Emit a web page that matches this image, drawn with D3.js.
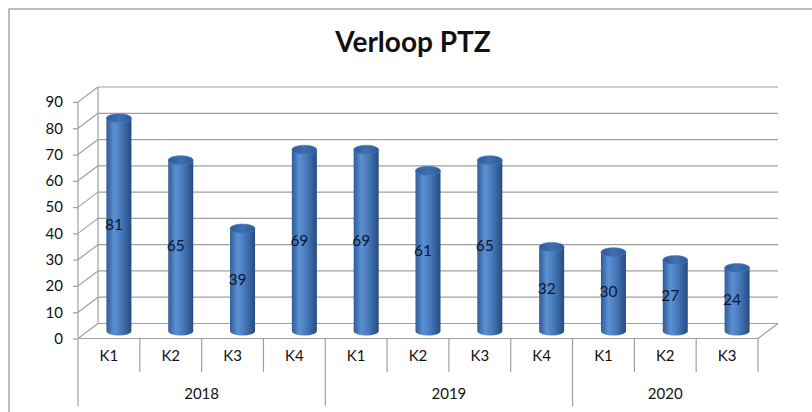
<!DOCTYPE html>
<html>
<head>
<meta charset="utf-8">
<script src="https://cdn.jsdelivr.net/npm/d3@7"></script>
<style>
  html, body { margin: 0; padding: 0; background: #fff; }
  svg { display: block; font-family: Lato, "Open Sans", sans-serif; }
</style>
</head>
<body>
<div id="chart"></div>
<script>
// Daten aus dem Bild
const kwartalen = ["K1", "K2", "K3", "K4", "K1", "K2", "K3", "K4", "K1", "K2", "K3"];
const waarden = [81, 65, 39, 69, 69, 61, 65, 32, 30, 27, 24];
const jaren = ["2018", "2019", "2020"];
const jaarAantal = [4, 4, 3];
const yTicks = [0, 10, 20, 30, 40, 50, 60, 70, 80, 90];

const W = 812, H = 412;
const depthX = 20, depthY = -15;   // 3D-Tiefe der Rückwand

const svg = d3.select("#chart").append("svg")
    .attr("width", W).attr("height", H);

// Verlauf für die Zylinder
const defs = svg.append("defs");
const grad = defs.append("linearGradient").attr("id", "cyl")
    .attr("x1", "0%").attr("x2", "100%").attr("y1", "0%").attr("y2", "0%");
[["0%", "#2f5c96"], ["30%", "#5b90d2"], ["55%", "#4a7dbf"], ["100%", "#254b80"]]
    .forEach(([o, c]) => grad.append("stop").attr("offset", o).attr("stop-color", c));
const gradTop = defs.append("linearGradient").attr("id", "cylTop")
    .attr("x1", "0%").attr("x2", "100%");
[["0%", "#2c5a94"], ["50%", "#3e70b2"], ["100%", "#2c5a94"]]
    .forEach(([o, c]) => gradTop.append("stop").attr("offset", o).attr("stop-color", c));

// Rahmen (rechts und unten abgeschnitten)
svg.append("path")
   .attr("d", `M9,${H + 5} L9,9 L${W + 5},9`)
   .attr("fill", "none").attr("stroke", "#a6a6a6").attr("stroke-width", 1.5);

// Titel
svg.append("text")
   .attr("x", 413).attr("y", 52)
   .attr("text-anchor", "middle")
   .attr("font-size", 28).attr("font-weight", "bold")
   .attr("fill", "#111")
   .text("Verloop PTZ");

// Skalen
const x = d3.scaleBand()
    .domain(d3.range(kwartalen.length))
    .range([78, 758])
    .paddingInner(0).paddingOuter(0);

const y = d3.scaleLinear()
    .domain([0, 90])
    .range([338.5, 102]);

const grid = svg.append("g").attr("stroke", "#a0a0a0").attr("stroke-width", 1.2).attr("fill", "none");
const x0 = x.range()[0], x1 = x.range()[1];

// Rückwand-Gitterlinien und Seitenwand-Diagonalen
yTicks.forEach(t => {
    grid.append("line")
        .attr("x1", x0 + depthX).attr("x2", x1 + depthX)
        .attr("y1", y(t) + depthY).attr("y2", y(t) + depthY);
    grid.append("line")
        .attr("x1", x0).attr("x2", x0 + depthX)
        .attr("y1", y(t)).attr("y2", y(t) + depthY);
});
// Rückwand linke Kante
grid.append("line")
    .attr("x1", x0 + depthX).attr("x2", x0 + depthX)
    .attr("y1", y(0) + depthY).attr("y2", y(90) + depthY);
// Boden vorne und rechts
grid.append("line")
    .attr("x1", x0).attr("x2", x1)
    .attr("y1", y(0)).attr("y2", y(0));
grid.append("line")
    .attr("x1", x1).attr("x2", x1 + depthX)
    .attr("y1", y(0)).attr("y2", y(0) + depthY);

// Y-Achse
const yAxis = svg.append("g")
    .attr("transform", `translate(${x0},0)`)
    .call(d3.axisLeft(y).tickValues(yTicks).tickSize(5).tickPadding(10));
yAxis.select(".domain").remove();
yAxis.selectAll(".tick line").attr("stroke", "#a0a0a0").attr("stroke-width", 1.2);
yAxis.selectAll(".tick text")
    .attr("font-size", 15).attr("fill", "#111")
    .attr("font-family", "Lato, 'Open Sans', sans-serif");
svg.append("line")
   .attr("x1", x0).attr("x2", x0)
   .attr("y1", y(90)).attr("y2", 406)
   .attr("stroke", "#a0a0a0").attr("stroke-width", 1.2);

// Kategorieachse (Quartale und Jahre)
const axisG = svg.append("g").attr("stroke", "#a0a0a0").attr("stroke-width", 1.2);
let startIdx = 0;
const yearBounds = [];
jaarAantal.forEach((n, j) => {
    yearBounds.push([startIdx, startIdx + n]);
    startIdx += n;
});
kwartalen.forEach((k, i) => {
    const xr = x(i) + x.bandwidth();
    const isYearEnd = yearBounds.some(b => b[1] === i + 1) && i + 1 < kwartalen.length;
    axisG.append("line")
        .attr("x1", xr).attr("x2", xr)
        .attr("y1", y(0)).attr("y2", isYearEnd ? 406 : 372);
    svg.append("text")
        .attr("x", x(i) + x.bandwidth() / 2).attr("y", 361)
        .attr("text-anchor", "middle").attr("font-size", 15).attr("fill", "#111")
        .text(k);
});
jaren.forEach((jr, j) => {
    const [a, b] = yearBounds[j];
    svg.append("text")
        .attr("x", (x(a) + x(b - 1) + x.bandwidth()) / 2).attr("y", 399)
        .attr("text-anchor", "middle").attr("font-size", 15).attr("fill", "#111")
        .text(jr);
});

// Zylinder
const rx = 12.5, ry = 4.5;
const bars = svg.append("g").selectAll("g")
    .data(waarden)
    .enter().append("g")
    .attr("transform", (d, i) => `translate(${x(i) + x.bandwidth() / 2 + depthX / 2},${depthY / 2})`);

bars.append("path")
    .attr("d", d => {
        const top = y(d), bot = y(0);
        return `M${-rx},${top} L${-rx},${bot} A${rx},${ry} 0 0 0 ${rx},${bot} L${rx},${top} Z`;
    })
    .attr("fill", "url(#cyl)");

bars.append("ellipse")
    .attr("cx", 0).attr("cy", d => y(d))
    .attr("rx", rx).attr("ry", ry)
    .attr("fill", "url(#cylTop)")
    .attr("stroke", "#4a7cbd").attr("stroke-width", 0.6);

// Wertbeschriftungen
bars.append("text")
    .attr("x", -5)
    .attr("y", d => (y(d) + y(0)) / 2)
    .attr("dy", "0.35em")
    .attr("text-anchor", "middle")
    .attr("font-size", 15.5)
    .attr("fill", "#0d1730")
    .text(d => d);
</script>
</body>
</html>
